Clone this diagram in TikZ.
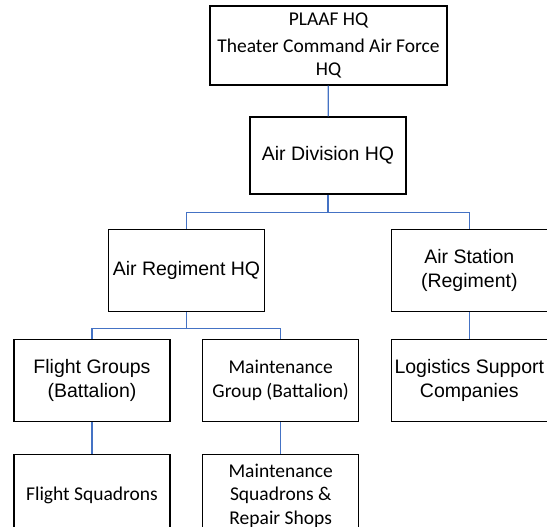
\documentclass[tikz,border=0pt]{standalone}
\usepackage{fontspec}
\setmainfont{Liberation Sans}
\newfontfamily\calib{Carlito}
\usepackage{tikz}

\begin{document}
\begin{tikzpicture}[x=1pt, y=-1pt,
    box/.style={draw=black, line width=1.4pt, rectangle, align=center, inner sep=0pt,
      minimum width=156pt, minimum height=82pt, font=\fontsize{19.5}{23.4}\selectfont},
    link/.style={draw={rgb,255:red,68;green,114;blue,196}, line width=1.3pt}]
    \clip (0,0) rectangle (547,527);
    \node [box, minimum width=237pt, minimum height=79pt] (hq) at (328.5, 45.5)
      {\calib PLAAF HQ\\[4pt]\calib Theater Command Air Force\\\calib HQ};
    \node [box, minimum height=77pt] (div) at (328, 155.5) {Air Division HQ};
    \node [box] (reg) at (186.5, 270.4) {Air Regiment HQ};
    \node [box] (stn) at (469.3, 270.4) {Air Station\\(Regiment)};
    \node [box] (fgrp) at (92, 380.4) {Flight Groups\\(Battalion)};
    \node [box] (mgrp) at (280.7, 380.4) {\calib Maintenance\\\calib Group (Battalion)};
    \node [box] (log) at (469.3, 380.4) {Logistics Support\\Companies};
    \node [box] (fsq) at (92, 495.6) {\calib Flight Squadrons};
    \node [box] (msq) at (280.7, 495.6) {\calib Maintenance\\\calib Squadrons \&\\\calib Repair Shops};
    \coordinate (bus1) at (328, 212.7);
    \coordinate (bus2) at (186.5, 328.5);
    \draw [link] (hq) -- (div);
    \draw [link] (div) -- (bus1) -| (reg);
    \draw [link] (bus1) -| (stn);
    \draw [link] (reg) -- (bus2) -| (fgrp);
    \draw [link] (bus2) -| (mgrp);
    \draw [link] (stn) -- (log);
    \draw [link] (fgrp) -- (fsq);
    \draw [link] (mgrp) -- (msq);
  \end{tikzpicture}
\end{document}
